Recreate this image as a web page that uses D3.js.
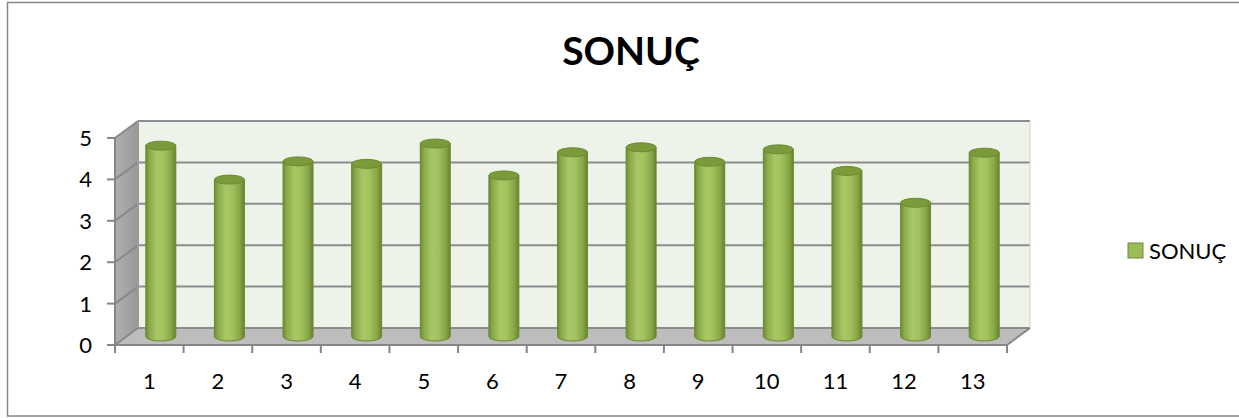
<!DOCTYPE html>
<html>
<head>
<meta charset="utf-8">
<script src="https://cdn.jsdelivr.net/npm/d3@7"></script>
<style>
  body { margin: 0; background: #fff; }
  svg { display: block; font-family: Lato, "Open Sans", sans-serif; }
</style>
</head>
<body>
<svg id="chart" width="1239" height="418"></svg>
<script>
// chart data
const categories = ["1", "2", "3", "4", "5", "6", "7", "8", "9", "10", "11", "12", "13"];
const values = [4.61, 3.79, 4.23, 4.17, 4.66, 3.89, 4.45, 4.57, 4.22, 4.52, 4.0, 3.23, 4.44];
const yTicks = [0, 1, 2, 3, 4, 5];
const seriesName = "SONUÇ";
const title = "SONUÇ";

const svg = d3.select("#chart");

// 3d depth of the plot box
const dx = 23, dy = -17;

const x = d3.scaleBand().domain(categories).range([115, 1007]);
const y = d3.scaleLinear().domain([0, 5]).range([345, 138]);

const defs = svg.append("defs");

const cyl = defs.append("linearGradient").attr("id", "cyl").attr("x1", 0).attr("x2", 1).attr("y1", 0).attr("y2", 0);
[[0, "#6d8a33"], [0.12, "#8aa94a"], [0.38, "#a8c866"], [0.6, "#a2c25f"], [0.85, "#86a545"], [1, "#67822f"]]
  .forEach(([o, c]) => cyl.append("stop").attr("offset", o).attr("stop-color", c));

const side = defs.append("linearGradient").attr("id", "side").attr("x1", 0).attr("x2", 1).attr("y1", 0).attr("y2", 0);
side.append("stop").attr("offset", 0).attr("stop-color", "#b0b0b0");
side.append("stop").attr("offset", 1).attr("stop-color", "#989898");

// outer chart border
svg.append("rect")
  .attr("x", 7.5).attr("y", 2.5)
  .attr("width", 1250).attr("height", 413.5)
  .attr("fill", "none").attr("stroke", "#868686").attr("stroke-width", 1.5);

svg.append("text")
  .attr("x", 631).attr("y", 65)
  .attr("text-anchor", "middle")
  .attr("font-size", 39).attr("font-weight", "bold")
  .text(title);

const x0 = x.range()[0], x1 = x.range()[1];
const pts = p => p.map(d => d.join(",")).join(" ");

// back wall
svg.append("polygon")
  .attr("points", pts([[x0 + dx, y(5) + dy], [x1 + dx, y(5) + dy], [x1 + dx, y(0) + dy], [x0 + dx, y(0) + dy]]))
  .attr("fill", "#eef3ea");

// side wall
svg.append("polygon")
  .attr("points", pts([[x0, y(5)], [x0 + dx, y(5) + dy], [x0 + dx, y(0) + dy], [x0, y(0)]]))
  .attr("fill", "url(#side)");

// floor
svg.append("polygon")
  .attr("points", pts([[x0, y(0)], [x1, y(0)], [x1 + dx, y(0) + dy], [x0 + dx, y(0) + dy]]))
  .attr("fill", "#bdbdbd");

// gridlines on back wall and side wall
const grid = svg.append("g").attr("stroke", "#8c8c8c").attr("stroke-width", 2).attr("fill", "none");
yTicks.forEach(v => {
  grid.append("line")
    .attr("x1", x0 + dx).attr("x2", x1 + dx)
    .attr("y1", y(v) + dy).attr("y2", y(v) + dy);
  grid.append("line")
    .attr("x1", x0).attr("x2", x0 + dx)
    .attr("y1", y(v)).attr("y2", y(v) + dy)
    .attr("stroke", "#888");
});
grid.append("line")
  .attr("x1", x0 + dx).attr("x2", x0 + dx)
  .attr("y1", y(5) + dy).attr("y2", y(0) + dy)
  .attr("stroke", "#9a9a9a");
grid.append("line")
  .attr("x1", x1 + dx).attr("x2", x1 + dx)
  .attr("y1", y(5) + dy).attr("y2", y(0) + dy)
  .attr("stroke", "#d0d0d0").attr("stroke-width", 1);

// cylinders
const rx = 15, ry = 4.5;
const bars = svg.append("g");
categories.forEach((c, i) => {
  const cx = x(c) + x.bandwidth() / 2 + dx / 2;
  const yb = y(0) + dy / 2;
  const yt = y(values[i]) + dy / 2;
  const g = bars.append("g");
  g.append("path")
    .attr("d", `M${cx - rx},${yt} L${cx - rx},${yb} A${rx},${ry} 0 0 0 ${cx + rx},${yb} L${cx + rx},${yt} Z`)
    .attr("fill", "url(#cyl)")
    .attr("stroke", "#6b8a31").attr("stroke-width", 1);
  g.append("ellipse")
    .attr("cx", cx).attr("cy", yt)
    .attr("rx", rx).attr("ry", ry)
    .attr("fill", "#7b9b3b")
    .attr("stroke", "#6b8a31").attr("stroke-width", 1);
});

// axes
const axes = svg.append("g").attr("stroke", "#868686").attr("stroke-width", 2).attr("fill", "none");
axes.append("line").attr("x1", x0).attr("x2", x0).attr("y1", y(5)).attr("y2", y(0));
axes.append("line").attr("x1", x0).attr("x2", x1).attr("y1", y(0)).attr("y2", y(0));
axes.append("line").attr("x1", x1).attr("x2", x1 + dx).attr("y1", y(0)).attr("y2", y(0) + dy);
yTicks.forEach(v => {
  axes.append("line").attr("x1", x0 - 8).attr("x2", x0).attr("y1", y(v)).attr("y2", y(v));
});
categories.concat([null]).forEach((c, i) => {
  const tx = c === null ? x1 : x(c);
  axes.append("line").attr("x1", tx).attr("x2", tx).attr("y1", y(0)).attr("y2", y(0) + 8);
});

svg.append("g").selectAll("text").data(yTicks).join("text")
  .attr("x", 92).attr("y", d => y(d) + 8)
  .attr("text-anchor", "end")
  .attr("font-size", 22)
  .text(d => d);

svg.append("g").selectAll("text").data(categories).join("text")
  .attr("x", d => x(d) + x.bandwidth() / 2)
  .attr("y", 389)
  .attr("text-anchor", "middle")
  .attr("font-size", 22)
  .text(d => d);

// legend
const lg = svg.append("g").attr("transform", "translate(1128,243)");
lg.append("rect").attr("width", 15).attr("height", 15)
  .attr("fill", "#9bbb59").attr("stroke", "#71893f").attr("stroke-width", 1);
lg.append("text").attr("x", 21).attr("y", 15.5).attr("font-size", 22).text(seriesName);
</script>
</body>
</html>
